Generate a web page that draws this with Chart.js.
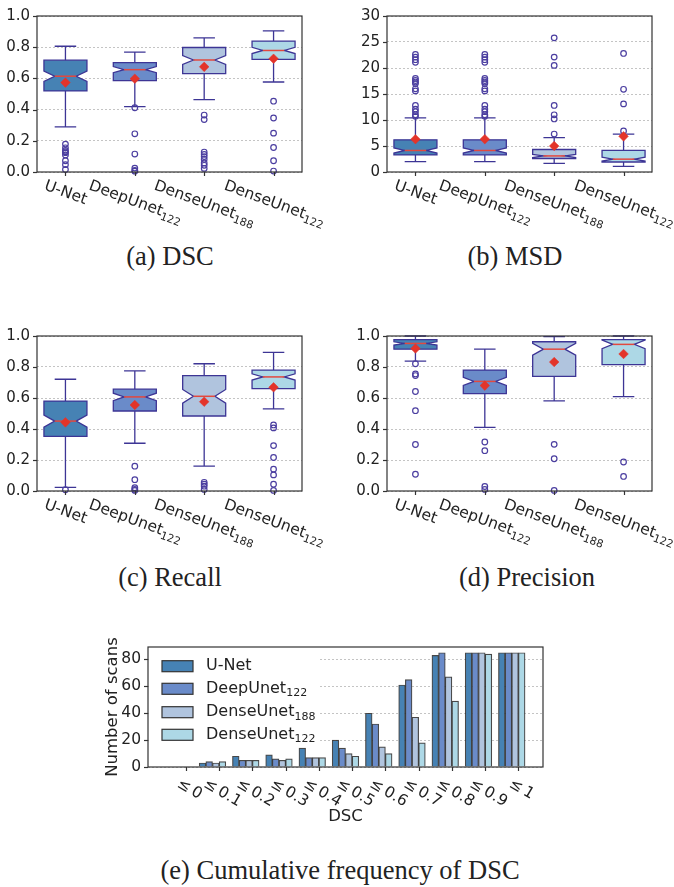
<!DOCTYPE html>
<html>
<head>
<meta charset="utf-8">
<script src="https://cdn.jsdelivr.net/npm/chart.js@4"></script>
<style>
  body { margin: 0; background: #fff; width: 674px; height: 887px; position: relative; overflow: hidden; }
  canvas { position: absolute; }
  .cap { position: absolute; font-family: 'Liberation Serif', serif; font-size: 26.5px; line-height: 26px;
         color: #222; white-space: nowrap; transform: translateX(-50%); }
</style>
</head>
<body>
<canvas id="ca" width="337" height="240" style="left:0;top:0"></canvas>
<canvas id="cb" width="337" height="240" style="left:337px;top:0"></canvas>
<canvas id="cc" width="337" height="240" style="left:0;top:320px"></canvas>
<canvas id="cd" width="337" height="240" style="left:337px;top:320px"></canvas>
<canvas id="ce" width="674" height="215" style="left:0;top:620px"></canvas>
<div class="cap" style="left:170px;top:243px">(a) DSC</div>
<div class="cap" style="left:515px;top:243px">(b) MSD</div>
<div class="cap" style="left:170px;top:564px">(c) Recall</div>
<div class="cap" style="left:527px;top:564px">(d) Precision</div>
<div class="cap" style="left:340px;top:857px">(e) Cumulative frequency of DSC</div>
<script>
// models (name + subscript)
const modelNames = ['U-Net', 'DeepUnet', 'DenseUnet', 'DenseUnet'];
const modelSubs = ['', '122', '188', '122'];
const nScans = 85;

// (a) DSC
const dscLow  = [0.289, 0.419, 0.464, 0.577];
const dscQ1   = [0.520, 0.586, 0.631, 0.722];
const dscMed  = [0.614, 0.656, 0.718, 0.779];
const dscQ3   = [0.717, 0.701, 0.798, 0.839];
const dscHigh = [0.806, 0.769, 0.860, 0.905];
const dscMean = [0.573, 0.598, 0.674, 0.726];
const dscOut  = [
  [0.179, 0.155, 0.138, 0.130, 0.124, 0.109, 0.072, 0.047, 0.016],
  [0.412, 0.245, 0.115, 0.025, 0.010, 0.005],
  [0.365, 0.336, 0.128, 0.113, 0.099, 0.082, 0.058, 0.043, 0.023],
  [0.454, 0.346, 0.249, 0.157, 0.072, 0.006]
];

// (b) MSD
const msdLow  = [1.98, 1.98, 1.67, 1.10];
const msdQ1   = [3.28, 3.28, 2.60, 1.92];
const msdMed  = [4.14, 4.14, 3.09, 2.47];
const msdQ3   = [6.18, 6.18, 4.33, 4.14];
const msdHigh = [10.39, 10.39, 6.62, 7.30];
const msdMean = [6.31, 6.31, 5.00, 6.86];
const msdOut  = [
  [22.6, 22.1, 21.6, 21.1, 18.0, 17.6, 17.3, 17.0, 16.0, 15.6, 12.8, 12.1, 11.6, 11.0, 10.7],
  [22.6, 22.1, 21.6, 21.1, 18.0, 17.6, 17.3, 17.0, 16.0, 15.6, 12.8, 12.1, 11.6, 11.0, 10.7],
  [25.8, 22.1, 20.5, 12.8, 11.0, 10.2, 7.3],
  [22.8, 15.9, 13.1, 7.9]
];

// (c) Recall
const recLow  = [0.023, 0.308, 0.160, 0.530];
const recQ1   = [0.353, 0.516, 0.484, 0.661];
const recMed  = [0.451, 0.607, 0.611, 0.736];
const recQ3   = [0.580, 0.657, 0.744, 0.780];
const recHigh = [0.721, 0.775, 0.821, 0.894];
const recMean = [0.443, 0.555, 0.576, 0.669];
const recOut  = [
  [0.008],
  [0.160, 0.073, 0.021, 0.010, 0.004],
  [0.056, 0.044, 0.031, 0.010],
  [0.426, 0.407, 0.293, 0.216, 0.141, 0.104, 0.044, 0.004]
];

// (d) Precision
const preLow  = [0.838, 0.410, 0.582, 0.609];
const preQ1   = [0.915, 0.628, 0.740, 0.815];
const preMed  = [0.952, 0.707, 0.915, 0.946];
const preQ3   = [0.977, 0.780, 0.963, 0.977];
const preHigh = [1.000, 0.915, 0.996, 1.000];
const preMean = [0.919, 0.680, 0.832, 0.884];
const preOut  = [
  [0.821, 0.755, 0.745, 0.642, 0.518, 0.300, 0.108],
  [0.316, 0.260, 0.029, 0.010],
  [0.301, 0.208, 0.004],
  [0.187, 0.094]
];

// (e) cumulative frequency of DSC
const cumLabels = ['≤\u20090', '≤\u20090.1', '≤\u20090.2', '≤\u20090.3', '≤\u20090.4', '≤\u20090.5',
                   '≤\u20090.6', '≤\u20090.7', '≤\u20090.8', '≤\u20090.9', '≤\u20091'];
const cumUNet   = [0, 3, 8, 9, 14, 20, 40, 61, 83, 85, 85];
const cumDeep   = [0, 4, 5, 6, 7, 14, 32, 65, 85, 85, 85];
const cumDense188 = [0, 3, 5, 5, 7, 10, 15, 37, 67, 85, 85];
const cumDense122 = [0, 4, 5, 6, 7, 8, 10, 18, 49, 84, 85];

// styles
const modelColors = ['#4682b4', '#6a8bc9', '#b0c4de', '#add8e6'];
const EDGE = '#3d3595';
const FLIER = '#4b3ea0';
const MEAN = '#e3342a';
const MEDIAN = '#e2483e';
const TEXT = '#222';
const FONT = '"DejaVu Sans"';

// rotated tick label with optional subscript, centred on x, top of its box at yTop
function drawLabel(ctx, x, yTop, name, sub, deg, size) {
  const rad = deg * Math.PI / 180;
  const subSize = size * 0.7;
  ctx.save();
  ctx.font = size + 'px ' + FONT;
  const w1 = ctx.measureText(name).width;
  ctx.font = subSize + 'px ' + FONT;
  const w2 = sub ? ctx.measureText(sub).width : 0;
  const w = w1 + w2, h = size * 1.15;
  const bh = w * Math.sin(rad) + h * Math.cos(rad);
  ctx.translate(x, yTop + bh / 2);
  ctx.rotate(rad);
  ctx.fillStyle = TEXT;
  ctx.textBaseline = 'middle';
  ctx.textAlign = 'left';
  ctx.font = size + 'px ' + FONT;
  ctx.fillText(name, -w / 2, 0);
  if (sub) {
    ctx.font = subSize + 'px ' + FONT;
    ctx.fillText(sub, -w / 2 + w1, size * 0.32);
  }
  ctx.restore();
}

function drawFrame(chart) {
  const {ctx, chartArea: a} = chart;
  ctx.save();
  ctx.strokeStyle = '#333';
  ctx.lineWidth = 1.2;
  ctx.strokeRect(a.left, a.top, a.right - a.left, a.bottom - a.top);
  const y = chart.scales.y;
  y.ticks.forEach(t => {
    const py = Math.round(y.getPixelForValue(t.value)) + 0.5;
    ctx.beginPath();
    ctx.moveTo(a.left - 4, py);
    ctx.lineTo(a.left, py);
    ctx.stroke();
  });
  ctx.restore();
}

// notched boxes, whiskers, medians + x labels
function boxPlugin(st) {
  return {
    id: 'boxes',
    beforeDatasetsDraw(chart) {
      const {ctx, scales: {x, y}} = chart;
      ctx.save();
      st.q1.forEach((q1, i) => {
        const q3 = st.q3[i], med = st.med[i];
        const half = 0.5 * st.width;
        const xc = x.getPixelForValue(i + 1);
        const xl = x.getPixelForValue(i + 1 - half);
        const xr = x.getPixelForValue(i + 1 + half);
        const hw = (xr - xl) / 4;
        const d = 1.57 * (q3 - q1) / Math.sqrt(nScans);
        const py = v => y.getPixelForValue(v);
        // whiskers
        ctx.strokeStyle = EDGE;
        ctx.lineWidth = 1.3;
        ctx.beginPath();
        ctx.moveTo(xc, py(q1)); ctx.lineTo(xc, py(st.low[i]));
        ctx.moveTo(xc, py(q3)); ctx.lineTo(xc, py(st.high[i]));
        ctx.moveTo(xc - hw, py(st.low[i])); ctx.lineTo(xc + hw, py(st.low[i]));
        ctx.moveTo(xc - hw, py(st.high[i])); ctx.lineTo(xc + hw, py(st.high[i]));
        ctx.stroke();
        // notched box
        ctx.beginPath();
        ctx.moveTo(xl, py(q1));
        ctx.lineTo(xr, py(q1));
        ctx.lineTo(xr, py(med - d));
        ctx.lineTo(xc + hw, py(med));
        ctx.lineTo(xr, py(med + d));
        ctx.lineTo(xr, py(q3));
        ctx.lineTo(xl, py(q3));
        ctx.lineTo(xl, py(med + d));
        ctx.lineTo(xc - hw, py(med));
        ctx.lineTo(xl, py(med - d));
        ctx.closePath();
        ctx.fillStyle = modelColors[i];
        ctx.fill();
        ctx.stroke();
        // median
        ctx.strokeStyle = MEDIAN;
        ctx.lineWidth = 1.5;
        ctx.beginPath();
        ctx.moveTo(xc - hw, py(med));
        ctx.lineTo(xc + hw, py(med));
        ctx.stroke();
      });
      ctx.restore();
    },
    afterDraw(chart) {
      drawFrame(chart);
      const {ctx, chartArea: a, scales: {x}} = chart;
      ctx.save();
      ctx.strokeStyle = '#333';
      ctx.lineWidth = 1.2;
      modelNames.forEach((n, i) => {
        const px = Math.round(x.getPixelForValue(i + 1)) + 0.5;
        ctx.beginPath();
        ctx.moveTo(px, a.bottom);
        ctx.lineTo(px, a.bottom + 4);
        ctx.stroke();
        drawLabel(ctx, px, a.bottom + 5, n, modelSubs[i], 20, 15.5);
      });
      ctx.restore();
    }
  };
}

function makeBoxChart(id, area, st, yMax, yStep, digits) {
  const canvas = document.getElementById(id);
  const meanPts = st.mean.map((v, i) => ({x: i + 1, y: v}));
  const outPts = [];
  st.out.forEach((arr, i) => arr.forEach(v => outPts.push({x: i + 1, y: v})));
  new Chart(canvas, {
    type: 'scatter',
    data: {
      datasets: [
        {data: meanPts, pointStyle: 'rectRot', pointRadius: 4.8, pointBackgroundColor: MEAN,
         pointBorderColor: MEAN, pointBorderWidth: 0.5, clip: false},
        {data: outPts, pointStyle: 'circle', pointRadius: 2.8, pointBackgroundColor: 'rgba(0,0,0,0)',
         pointBorderColor: FLIER, pointBorderWidth: 1.2, clip: false}
      ]
    },
    options: {
      responsive: false,
      animation: false,
      events: [],
      layout: {padding: {left: 0, top: area.top, right: canvas.width - area.right, bottom: canvas.height - area.bottom}},
      plugins: {legend: {display: false}, tooltip: {enabled: false}},
      scales: {
        x: {type: 'linear', display: false, min: 0.59, max: 4.41},
        y: {
          min: 0, max: yMax,
          afterFit: s => { s.width = area.left; },
          ticks: {stepSize: yStep, padding: 7, color: TEXT, font: {family: 'DejaVu Sans', size: 15},
                  callback: v => v.toFixed(digits)},
          grid: {color: '#c4c4c4', lineWidth: 1, drawTicks: false},
          border: {display: false, dash: [2, 2]}
        }
      }
    },
    plugins: [boxPlugin(st)]
  });
}

makeBoxChart('ca', {left: 37, top: 10, right: 302, bottom: 172},
  {low: dscLow, q1: dscQ1, med: dscMed, q3: dscQ3, high: dscHigh, mean: dscMean, out: dscOut, width: 0.62}, 1, 0.2, 1);
makeBoxChart('cb', {left: 50, top: 10, right: 315, bottom: 172},
  {low: msdLow, q1: msdQ1, med: msdMed, q3: msdQ3, high: msdHigh, mean: msdMean, out: msdOut, width: 0.62}, 30, 5, 0);
makeBoxChart('cc', {left: 37, top: 11, right: 302, bottom: 171},
  {low: recLow, q1: recQ1, med: recMed, q3: recQ3, high: recHigh, mean: recMean, out: recOut, width: 0.62}, 1, 0.2, 1);
makeBoxChart('cd', {left: 50, top: 11, right: 315, bottom: 171},
  {low: preLow, q1: preQ1, med: preMed, q3: preQ3, high: preHigh, mean: preMean, out: preOut, width: 0.62}, 1, 0.2, 1);

// (e) bars: 4 bars of width 0.2 per threshold, left edges at i-0.6, i-0.4, i-0.2, i
const cumSeries = [cumUNet, cumDeep, cumDense188, cumDense122];
const eArea = {left: 148, top: 27, right: 543, bottom: 147};
const barW = 0.2;

const cumPlugin = {
  id: 'cumExtras',
  beforeDatasetsDraw(chart) {
    const {ctx, chartArea: a} = chart;
    ctx.save();
    // legend with white background over the grid
    ctx.fillStyle = '#fff';
    ctx.fillRect(a.left + 1, a.top + 1, 318 - a.left, 746 - 620 - a.top);
    const tops = [40.7, 63.3, 86.7, 109.3];
    modelNames.forEach((n, i) => {
      ctx.fillStyle = modelColors[i];
      ctx.fillRect(162, tops[i], 31, 11);
      ctx.strokeStyle = '#333';
      ctx.lineWidth = 1.2;
      ctx.strokeRect(162, tops[i], 31, 11);
      ctx.fillStyle = TEXT;
      ctx.textBaseline = 'middle';
      ctx.font = '16px ' + FONT;
      ctx.fillText(n, 206, tops[i] + 5.5);
      if (modelSubs[i]) {
        const w = ctx.measureText(n).width;
        ctx.font = '11px ' + FONT;
        ctx.fillText(modelSubs[i], 206 + w, tops[i] + 10);
      }
    });
    ctx.restore();
  },
  afterDraw(chart) {
    drawFrame(chart);
    const {ctx, chartArea: a, scales: {x}} = chart;
    ctx.save();
    ctx.strokeStyle = '#333';
    ctx.lineWidth = 1.2;
    cumLabels.forEach((lab, i) => {
      const px = Math.round(x.getPixelForValue(i)) + 0.5;
      ctx.beginPath();
      ctx.moveTo(px, a.bottom);
      ctx.lineTo(px, a.bottom + 4);
      ctx.stroke();
      drawLabel(ctx, px + 3, a.bottom + 8, lab, '', 30, 15.5);
    });
    ctx.fillStyle = TEXT;
    ctx.font = '16.5px ' + FONT;
    ctx.textAlign = 'center';
    ctx.textBaseline = 'middle';
    ctx.fillText('DSC', (a.left + a.right) / 2, 197);
    ctx.font = '16.5px ' + FONT;
    ctx.translate(113, (a.top + a.bottom) / 2);
    ctx.rotate(-Math.PI / 2);
    ctx.fillText('Number of scans', 0, 0);
    ctx.restore();
  }
};

new Chart(document.getElementById('ce'), {
  type: 'bar',
  data: {
    datasets: cumSeries.map((vals, k) => ({
      data: vals.map((v, i) => ({x: i + (k - 2.5) * barW, y: v})),
      backgroundColor: modelColors[k],
      borderColor: 'rgba(40,40,40,0.85)',
      borderWidth: 1.2,
      borderSkipped: 'start',
      grouped: false,
      categoryPercentage: 1.0,
      barPercentage: 1.0
    }))
  },
  options: {
    responsive: false,
    animation: false,
    events: [],
    layout: {padding: {left: 0, top: eArea.top, right: 674 - eArea.right, bottom: 215 - eArea.bottom}},
    plugins: {legend: {display: false}, tooltip: {enabled: false}},
    scales: {
      x: {
        type: 'linear', display: false, offset: false, min: -1.14, max: 10.74,
        afterBuildTicks: s => { s.ticks = cumLabels.map((c, i) => ({value: i})); }
      },
      y: {
        min: 0, max: 89.25,
        afterFit: s => { s.width = eArea.left; },
        ticks: {stepSize: 20, includeBounds: false, padding: 7, color: TEXT, font: {family: 'DejaVu Sans', size: 15.5}},
        grid: {color: '#c4c4c4', lineWidth: 1, drawTicks: false},
        border: {display: false, dash: [2, 2]}
      }
    }
  },
  plugins: [cumPlugin]
});
</script>
</body>
</html>
